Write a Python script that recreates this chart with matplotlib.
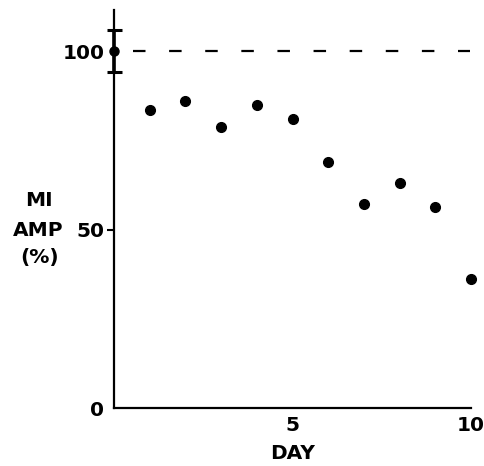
import matplotlib
matplotlib.use("Agg")
import matplotlib.pyplot as plt

days = [1, 2, 3, 4, 5, 6, 7, 8, 9, 10]
amp = [83.5, 86, 78.7, 85, 81, 68.8, 57.1, 63.1, 56.2, 36.1]
base_day = [0]
base_amp = [100]
base_err = [6]
yticks = [0, 50, 100]
ytick_labels = ["0", "50", "100"]
xticks = [5, 10]
xtick_labels = ["5", "10"]

plt.rcParams['font.family'] = ['DejaVu Sans']
plt.rcParams['lines.scale_dashes'] = False

fig = plt.figure(figsize=(4.85, 4.66), dpi=100)
ax = fig.add_axes([114/485, 1-408/466, (471-114)/485, (408-10)/466])

ax.plot(days, amp, 'o', color='black', markersize=7, clip_on=False)
ax.errorbar(base_day, base_amp, yerr=base_err, fmt='o', color='black',
            markersize=6.5, capsize=5.4, elinewidth=2.6, capthick=2.2, clip_on=False)
ax.plot([0.53, 9.97], [100, 100], color='black', lw=1.6,
        linestyle=(0, (9, 17)))

ax.set_xlim(0, 10)
ax.set_ylim(0, 111.5)
for s in ['top', 'right']:
    ax.spines[s].set_visible(False)
for s in ['left', 'bottom']:
    ax.spines[s].set_linewidth(1.6)

ax.set_yticks(yticks)
ax.set_yticklabels(ytick_labels, fontsize=14.5, fontweight='bold')
ax.set_xticks(xticks)
ax.set_xticklabels(xtick_labels, fontsize=14.5, fontweight='bold')
ax.tick_params(axis='x', length=0, pad=6)
ax.tick_params(axis='y', length=5, width=1.5, pad=2)
yt = ax.yaxis.get_major_ticks()
yt[0].tick1line.set_visible(False)
yt[2].tick1line.set_visible(False)
ax.set_xlabel("DAY", fontsize=14.5, fontweight='bold', labelpad=6)

fig.text(25/485, 1-201/466, "MI", fontsize=14.5, fontweight='bold', va='center', ha='left')
fig.text(13/485, 1-230/466, "AMP", fontsize=14.5, fontweight='bold', va='center', ha='left')
fig.text(20/485, 1-257/466, "(%)", fontsize=14.5, fontweight='bold', va='center', ha='left')

fig.savefig("out.png", dpi=100)
